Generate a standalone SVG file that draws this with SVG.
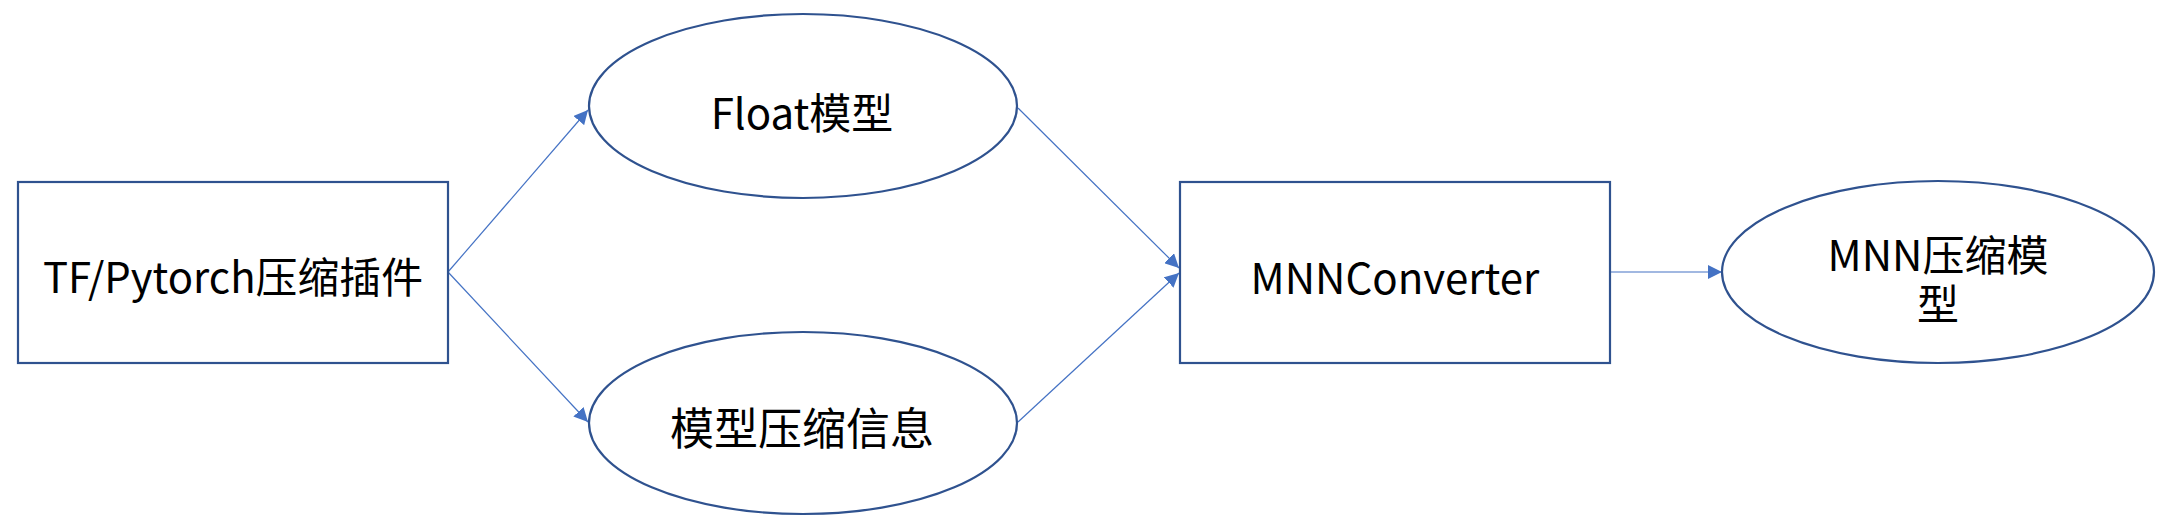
<svg xmlns="http://www.w3.org/2000/svg" width="2170" height="530" viewBox="0 0 2170 530">
<style>
.shape{fill:#ffffff;stroke:#2F528F;stroke-width:2.2}
.conn{stroke:#4472C4;stroke-width:1.2;fill:none}
.lbl{font-family:"Noto Sans CJK SC","Noto Sans",sans-serif;font-size:42px;fill:#000000;text-anchor:middle;dominant-baseline:central}
</style>
<defs>
<marker id="arr" viewBox="0 0 10 10" refX="10" refY="5" markerWidth="14" markerHeight="14" markerUnits="userSpaceOnUse" orient="auto">
<path d="M0,0 L10,5 L0,10 z" fill="#4472C4"/>
</marker>
</defs>
<rect width="2170" height="530" fill="#ffffff"/>
<g id="connectors">
<line class="conn" x1="448" y1="272" x2="588" y2="110" marker-end="url(#arr)"/>
<line class="conn" x1="448" y1="272" x2="588" y2="422" marker-end="url(#arr)"/>
<line class="conn" x1="1018" y1="108" x2="1179" y2="268" marker-end="url(#arr)"/>
<line class="conn" x1="1018" y1="422" x2="1179" y2="273" marker-end="url(#arr)"/>
<line class="conn" x1="1610" y1="272" x2="1722" y2="272" marker-end="url(#arr)"/>
</g>
<g id="node-plugin">
<rect class="shape" x="18" y="182" width="430" height="181"/>
<text class="lbl" x="233" y="274" textLength="380" lengthAdjust="spacingAndGlyphs">TF/Pytorch压缩插件</text>
</g>
<g id="node-float">
<ellipse class="shape" cx="803" cy="106" rx="214" ry="92"/>
<text class="lbl" x="802" y="110">Float模型</text>
</g>
<g id="node-info">
<ellipse class="shape" cx="803" cy="423" rx="214" ry="91"/>
<text class="lbl" x="802" y="426" style="font-size:44px">模型压缩信息</text>
</g>
<g id="node-converter">
<rect class="shape" x="1180" y="182" width="430" height="181"/>
<text class="lbl" x="1395" y="275">MNNConverter</text>
</g>
<g id="node-mnn">
<ellipse class="shape" cx="1938" cy="272" rx="216" ry="91"/>
<text class="lbl" x="1938" y="252"><tspan x="1938" y="252">MNN压缩模</tspan><tspan x="1938" y="301">型</tspan></text>
</g>
</svg>
